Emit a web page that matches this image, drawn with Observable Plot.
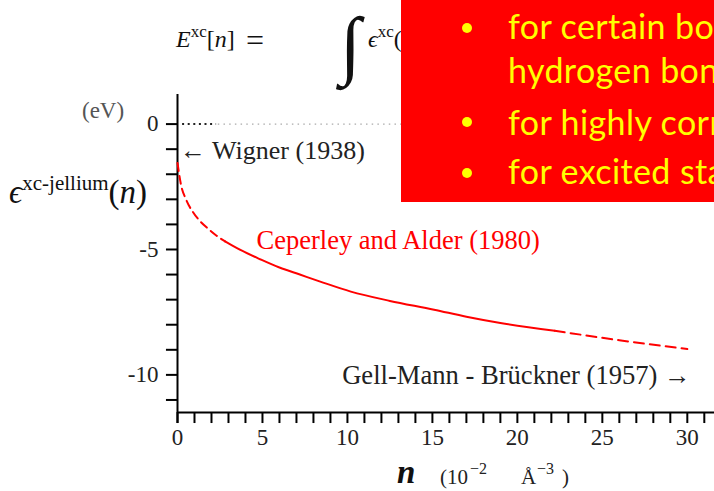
<!DOCTYPE html>
<html><head><meta charset="utf-8">
<script src="https://cdn.jsdelivr.net/npm/d3@7"></script>
<script src="https://cdn.jsdelivr.net/npm/@observablehq/plot@0.6"></script>
<style>
body{margin:0;background:#fff;}
#wrap{position:relative;width:714px;height:491px;overflow:hidden;font-family:"Liberation Serif",serif;}
#wrap svg{position:absolute;left:0;top:0;}
.ov{position:absolute;white-space:nowrap;line-height:1;}
.box{position:absolute;left:401px;top:0;width:313px;height:202px;background:#ff0000;}
.bl{position:absolute;font-family:Lato,"Open Sans",sans-serif;color:#ffff00;font-size:34px;letter-spacing:0.4px;white-space:nowrap;line-height:1;}
.dot{position:absolute;width:10px;height:10px;border-radius:5px;background:#ffff00;}
.sp{position:relative;}
</style></head><body><div id="wrap"></div>
<script>
// Ceperley–Alder xc energy per particle (eV) vs density n (10^-2 Å^-3)
const nLow = [0, 0.2, 0.5, 0.9, 1.3, 1.8, 2.3, 2.8];
const epsLow = [-1.55, -2.4, -3.0, -3.5, -3.85, -4.17, -4.45, -4.68];
const nMid = [2.8, 3.5, 4.9, 6.0, 7.2, 8.4, 10.2, 12.5, 15.1, 17.0, 19.0, 22.2];
const epsMid = [-4.68, -4.95, -5.4, -5.72, -6.0, -6.28, -6.68, -7.05, -7.4, -7.68, -7.93, -8.24];
const nHigh = [22.2, 26.0, 30.0];
const epsHigh = [-8.24, -8.62, -8.97];

const yTicks = [0, -1, -2, -3, -4, -5, -6, -7, -8, -9, -10, -11];
const yTickLabels = [0, -5, -10];
const xTicks = [0,1,2,3,4,5,6,7,8,9,10,11,12,13,14,15,16,17,18,19,20,21,22,23,24,25,26,27,28,29,30,31];
const xTickLabels = [0, 5, 10, 15, 20, 25, 30];

const wignerNote = [{x: 0.15, y: -1.05, text: "← Wigner (1938)"}];
const caNote = [{x: 4.65, y: -4.66, text: "Ceperley and Alder (1980)"}];
const gmbNote = [{x: 30.2, y: -10.03, text: "Gell-Mann - Brückner (1957) →"}];

const toRows = (ns, es) => ns.map((n, i) => ({n, e: es[i]}));

const plot = Plot.plot({
  width: 714, height: 491,
  marginLeft: 177, marginRight: 0, marginTop: 94, marginBottom: 79,
  x: {domain: [0, 31.6], axis: null},
  y: {domain: [-11.5, 1.18], axis: null},
  style: {fontFamily: "Liberation Serif", background: "transparent", overflow: "visible"},
  marks: [
    Plot.ruleY([0], {x1: 0.3, x2: 2.3, stroke: "#222", strokeWidth: 2, strokeDasharray: "2,3.6"}),
    Plot.ruleY([0], {x1: 2.4, x2: 14, stroke: "#aaa", strokeWidth: 1.2, strokeDasharray: "1.5,4.2"}),
    Plot.ruleX([0], {y1: -11.94, y2: 1.18, stroke: "black", strokeWidth: 2}),
    Plot.ruleY([-11.5], {x1: 0, x2: 31.6, stroke: "black", strokeWidth: 2}),
    Plot.ruleY(yTicks, {x1: -0.65, x2: 0, stroke: "black", strokeWidth: 2}),
    Plot.ruleX(xTicks, {y1: -11.5, y2: -11.94, stroke: "black", strokeWidth: 2}),
    Plot.text(yTickLabels, {x: 0, y: d => d, text: d => String(d), dx: -19, textAnchor: "end", fontSize: 23, fill: "#222"}),
    Plot.text(xTickLabels, {x: d => d, y: -11.5, dy: 25, text: d => String(d), fontSize: 23, fill: "#222"}),
    Plot.line(toRows(nLow, epsLow), {x: "n", y: "e", stroke: "red", strokeWidth: 2, strokeDasharray: "8,5", curve: "monotone-x"}),
    Plot.line(toRows(nMid, epsMid), {x: "n", y: "e", stroke: "red", strokeWidth: 2, curve: "monotone-x"}),
    Plot.line(toRows(nHigh, epsHigh), {x: "n", y: "e", stroke: "red", strokeWidth: 2, strokeDasharray: "10,6", curve: "monotone-x"}),
    Plot.text(wignerNote, {x: "x", y: "y", text: "text", textAnchor: "start", fill: "#222", fontSize: 26}),
    Plot.text(caNote, {x: "x", y: "y", text: "text", textAnchor: "start", fill: "red", fontSize: 26.5}),
    Plot.text(gmbNote, {x: "x", y: "y", text: "text", textAnchor: "end", fill: "#222", fontSize: 26.6})
  ]
});

const wrap = document.getElementById("wrap");
wrap.appendChild(plot);

const html = `
<div class="ov" style="left:176px;top:27px;font-size:24px;color:#111"><i>E</i><span class="sp" style="font-size:17px;top:-10px">xc</span>[<i>n</i>]</div>
<div class="ov" style="left:246px;top:24px;font-size:32px;color:#111">=</div>
<div class="ov" style="left:340px;top:6px;font-size:76px;color:#111;font-style:italic">∫</div>
<div class="ov" style="left:368px;top:27px;font-size:24px;color:#111"><i>ϵ</i><span class="sp" style="font-size:17px;top:-10px">xc</span>(<i>n</i>)</div>
<div class="ov" style="left:82px;top:99px;font-size:23px;color:#555">(eV)</div>
<div class="ov" style="left:9px;top:176px;font-size:33px;color:#111"><i>ϵ</i><span style="font-size:21px;position:relative;top:-13px">xc-jellium</span>(<i>n</i>)</div>
<div class="ov" style="left:397px;top:456px;font-size:33px;color:#111;font-weight:bold;font-style:italic">n</div>
<div class="ov" style="left:440px;top:467px;font-size:21px;color:#222">(10</div>
<div class="ov" style="left:470px;top:461px;font-size:16px;color:#222">−2</div>
<div class="ov" style="left:521px;top:467px;font-size:21px;color:#222">Å</div>
<div class="ov" style="left:537px;top:461px;font-size:16px;color:#222">−3</div>
<div class="ov" style="left:562px;top:467px;font-size:21px;color:#222">)</div>
<div class="box"></div>
<div class="dot" style="left:462px;top:23px"></div>
<div class="dot" style="left:462px;top:117px"></div>
<div class="dot" style="left:462px;top:168px"></div>
<div class="bl" style="left:508px;top:9px">for certain bonds, e.g.</div>
<div class="bl" style="left:508px;top:53px">hydrogen bonds</div>
<div class="bl" style="left:508px;top:105px">for highly correlated systems</div>
<div class="bl" style="left:508px;top:154px">for excited states</div>
`;
wrap.insertAdjacentHTML("beforeend", html);
</script>
</body></html>
